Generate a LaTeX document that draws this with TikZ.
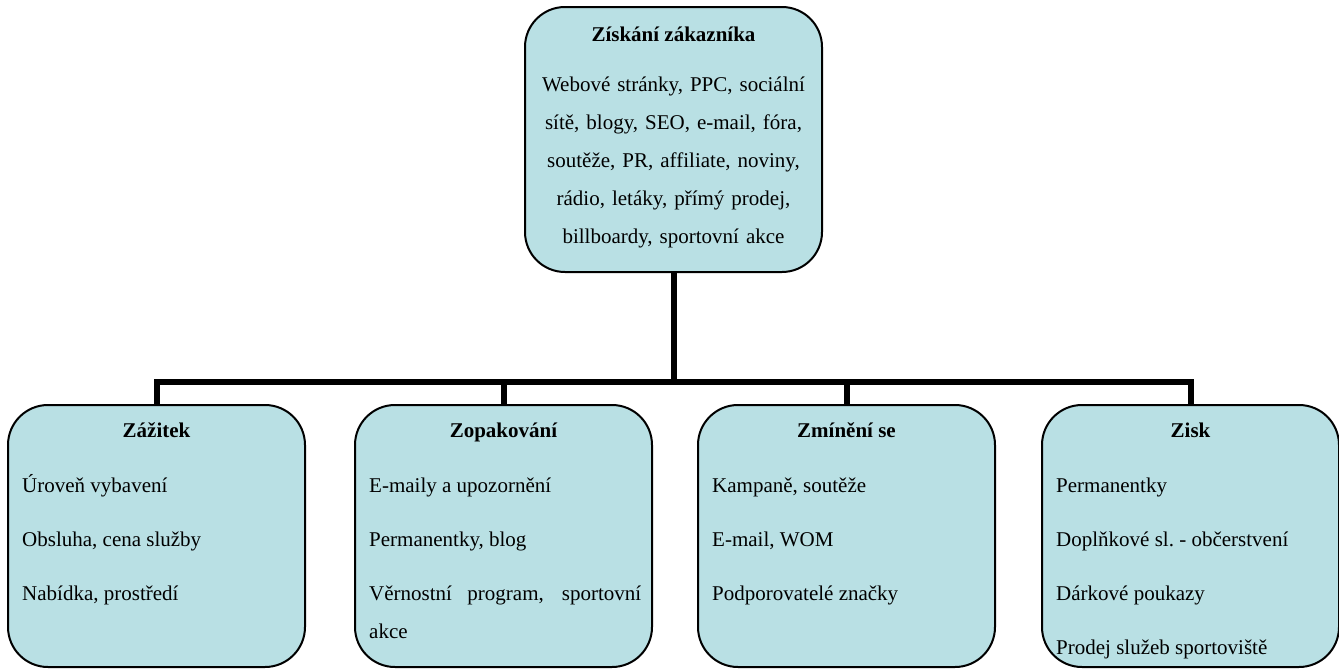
\documentclass[tikz,border=0pt]{standalone}
\usepackage{fontspec}
\setmainfont{Liberation Serif}
\usepackage{xcolor}
\usetikzlibrary{positioning}
\definecolor{cardfill}{RGB}{185,224,228}

\begin{document}
\begin{tikzpicture}[
            x=1pt, y=-1pt,
            card/.style={rectangle, draw=black, line width=2pt, fill=cardfill, rounded corners=40pt, minimum width=297pt, minimum height=262pt, inner sep=0pt},
            heading/.style={font={\fontsize{21}{38}\selectfont\bfseries}, inner sep=0pt},
            items/.style={font={\fontsize{21}{38}\selectfont\sloppy\hyphenpenalty=10000}, inner sep=0pt, text width=272pt, align=justify},
            link/.style={line width=6pt}
        ]
\useasboundingbox (0,0) rectangle (1339,670);

% Nodes
            \node[card, minimum height=265pt] (ziskani) at (673.5,139.5) {};
            \node[heading, below=35pt of ziskani.north, anchor=base] (ziskaniTitle) {Získání zákazníka};
            \node[items, below=58.4pt of ziskani.north, text width=290pt, align=center] (ziskaniList) {\strut Webové stránky, PPC, sociální\\ sítě, blogy, SEO, e-mail, fóra,\\ soutěže, PR, affiliate, noviny,\\ rádio, letáky, přímý prodej,\\ billboardy, sportovní akce};

            \node[card] (zazitek) at (156.5,536) {};
            \node[card] (zopakovani) at (503.5,536) {};
            \node[card] (zmineni) at (846.5,536) {};
            \node[card] (zisk) at (1190.5,536) {};

            \node[heading, below=33pt of zazitek.north, anchor=base] (zazitekTitle) {Zážitek};
            \node[heading, below=33pt of zopakovani.north, anchor=base] (zopakovaniTitle) {Zopakování};
            \node[heading, below=33pt of zmineni.north, anchor=base] (zmineniTitle) {Zmínění se};
            \node[heading, below=33pt of zisk.north, anchor=base] (ziskTitle) {Zisk};

            \node[items, below right=61.4pt and 15pt of zazitek.north west] (zazitekList) {\strut Úroveň vybavení\\[16pt] Obsluha, cena služby\\[16pt] Nabídka, prostředí};
            \node[items, below right=61.4pt and 15pt of zopakovani.north west] (zopakovaniList) {\strut E-maily a upozornění\\[16pt] Permanentky, blog\\[16pt] Věrnostní program, sportovní akce};
            \node[items, below right=61.4pt and 15pt of zmineni.north west] (zmineniList) {\strut Kampaně, soutěže\\[16pt] E-mail, WOM\\[16pt] Podporovatelé značky};
            \node[items, below right=61.4pt and 15pt of zisk.north west] (ziskList) {\strut Permanentky\\[16pt] Doplňkové sl.\ - občerstvení\\[16pt] Dárkové poukazy\\[16pt] Prodej služeb sportoviště};

% Edges
            \coordinate (hub) at (673.5,381.5);
            \draw[link] (ziskani.south) -- (hub);
            \draw[link] (zazitek.north) |- (hub);
            \draw[link] (zopakovani.north) |- (hub);
            \draw[link] (zmineni.north) |- (hub);
            \draw[link] (zisk.north) |- (hub);

        \end{tikzpicture}
\end{document}
